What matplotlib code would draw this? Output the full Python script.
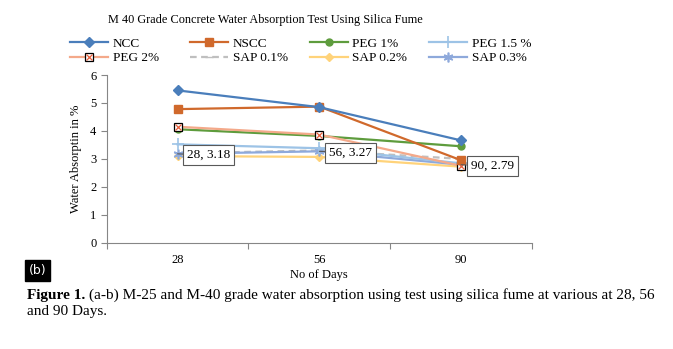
import matplotlib.pyplot as plt
from matplotlib.legend_handler import HandlerTuple

plt.rcParams['font.family'] = ['Liberation Serif', 'DejaVu Serif']

dias = ['28', '56', '90']
ncc = [5.45, 4.85, 3.66]
nscc = [4.78, 4.87, 2.95]
peg_1 = [4.06, 3.82, 3.45]
peg_15 = [3.52, 3.38, 2.84]
peg_2 = [4.15, 3.87, 2.75]
sap_01 = [3.20, 3.30, 3.00]
sap_02 = [3.10, 3.07, 2.72]
sap_03 = [3.18, 3.27, 2.79]
etiquetas = [(0, 3.18), (1, 3.27), (2, 2.79)]

fig = plt.figure(figsize=(6.73, 3.49), dpi=100)
ax = fig.add_axes([0.1585, 0.3046, 0.632, 0.4804])
x = range(len(dias))
lw = 1.6

h_sap02, = ax.plot(x, sap_02, color='#FFD37A', lw=lw, marker='D', ms=4, label='SAP 0.2%')
h_sap01, = ax.plot(x, sap_01, color='#BFBFBF', lw=lw, ls=(0, (3, 2)), marker='_', ms=6, label='SAP 0.1%')
h_sap03, = ax.plot(x, sap_03, color='#8EA9DB', lw=lw, marker=(6, 2, 0), ms=7, mew=1.2, label='SAP 0.3%')
h_peg15, = ax.plot(x, peg_15, color='#9DC3E6', lw=lw, marker='+', ms=8, mew=1.2, label='PEG 1.5 %')
h_peg1, = ax.plot(x, peg_1, color='#5E9C3D', lw=lw, marker='o', ms=5, label='PEG 1%')
h_peg2, = ax.plot(x, peg_2, color='#F4A98A', lw=lw, marker='s', ms=6, mfc='white', mec='black', mew=0.9, label='PEG 2%')
h_peg2x, = ax.plot(x, peg_2, ls='none', marker='x', ms=5, mec='#E8603C', mew=0.9)
h_nscc, = ax.plot(x, nscc, color='#D0692C', lw=lw, marker='s', ms=5.5, label='NSCC')
h_ncc, = ax.plot(x, ncc, color='#4A7EBB', lw=lw, marker='D', ms=5, label='NCC')

for xi, yi in etiquetas:
    ax.annotate(f'{dias[xi]}, {yi:.2f}', xy=(xi, yi), xytext=(7, -1), textcoords='offset points',
                fontsize=9.5, va='center', ha='left',
                bbox=dict(boxstyle='square,pad=0.3', fc='white', ec='#595959', lw=0.8),
                arrowprops=dict(arrowstyle='-', color='#595959', lw=0.8, shrinkA=0, shrinkB=0))

ax.set_xlim(-0.5, 2.5)
ax.set_ylim(0, 6)
ax.set_xticks([-0.5, 0.5, 1.5, 2.5])
ax.set_xticklabels([])
ax.set_xticks(list(x), minor=True)
ax.set_xticklabels(dias, minor=True)
ax.tick_params(axis='x', which='major', length=4, direction='out', color='#868686')
ax.tick_params(axis='x', which='minor', length=0, pad=8, labelsize=9)
ax.tick_params(axis='y', length=4, direction='out', color='#868686', labelsize=9)
for lado in ['top', 'right']:
    ax.spines[lado].set_visible(False)
for lado in ['left', 'bottom']:
    ax.spines[lado].set_color('#868686')
ax.set_ylabel('Water Absorptin in %', fontsize=9, labelpad=6)
ax.set_xlabel('No of Days', fontsize=9, labelpad=2)

fig.text(0.394, 0.942, 'M 40 Grade Concrete Water Absorption Test Using Silica Fume',
         fontsize=8.8, ha='center', va='center')

# leyenda en 4 columnas separadas para fijar la posicion de cada una
columnas = [
    ([h_ncc, (h_peg2, h_peg2x)], ['NCC', 'PEG 2%']),
    ([h_nscc, h_sap01], ['NSCC', 'SAP 0.1%']),
    ([h_peg1, h_sap02], ['PEG 1%', 'SAP 0.2%']),
    ([h_peg15, h_sap03], ['PEG 1.5 %', 'SAP 0.3%']),
]
xs_col = [0.104, 0.282, 0.460, 0.637]
for (hs, ls), xc in zip(columnas, xs_col):
    fig.legend(hs, ls, loc='upper left', bbox_to_anchor=(xc, 0.892),
               frameon=False, fontsize=9.5, handlelength=2.9, handletextpad=0.35,
               labelspacing=0.15, borderpad=0, borderaxespad=0,
               handler_map={tuple: HandlerTuple(ndivide=1)})

fig.text(0.043, 0.225, '(b)', fontsize=9, color='white', family='DejaVu Sans', va='center',
         bbox=dict(boxstyle='square,pad=0.3', fc='black', ec='black'))

t = fig.text(0.04, 0.143, 'Figure 1.', fontsize=11, fontweight='bold', va='baseline')
fig.canvas.draw()
bb = t.get_window_extent()
x1 = fig.transFigure.inverted().transform((bb.x1, bb.y0))[0]
fig.text(x1 + 0.006, 0.143, '(a-b) M-25 and M-40 grade water absorption using test using silica fume at various at 28, 56',
         fontsize=11, va='baseline')
fig.text(0.04, 0.097, 'and 90 Days.', fontsize=11, va='baseline')

fig.savefig('out.png', dpi=100)
